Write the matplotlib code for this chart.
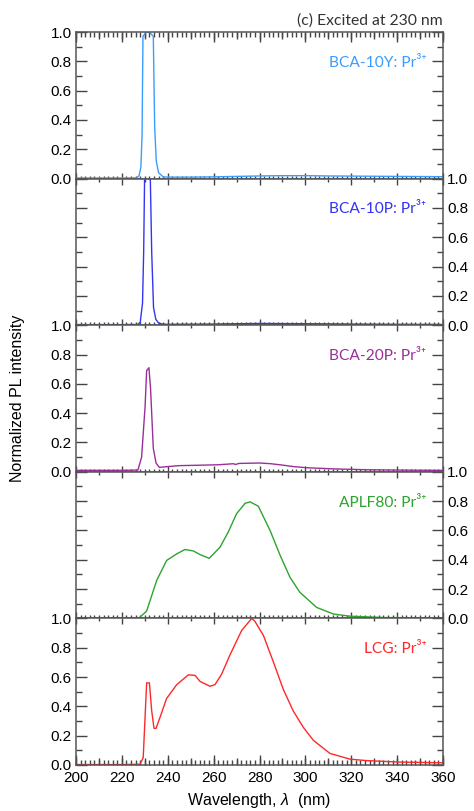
import numpy as np
import matplotlib
matplotlib.use("Agg")
import matplotlib.pyplot as plt
from matplotlib.ticker import MultipleLocator, NullFormatter, FormatStrFormatter

plt.rcParams["font.family"] = ["Liberation Sans", "DejaVu Sans"]
plt.rcParams["mathtext.fontset"] = "custom"
plt.rcParams["mathtext.rm"] = "Lato"
plt.rcParams["mathtext.it"] = "Liberation Sans:italic"

# ---- data ----
w_10y = [200, 210, 220, 226.5, 227.5, 228.3, 228.8, 229.2, 230.5, 232.0, 233.7, 234.3,
         235.0, 236.0, 238.0, 240, 250, 260, 270, 280, 290, 300, 310, 320, 330, 340, 350, 360]
i_10y = [0.004, 0.004, 0.004, 0.005, 0.02, 0.08, 0.3, 0.97, 1.0, 1.0, 0.97, 0.35,
         0.12, 0.04, 0.012, 0.01, 0.01, 0.012, 0.015, 0.018, 0.02, 0.02, 0.018, 0.017,
         0.016, 0.015, 0.014, 0.013]

w_10p = [200, 210, 220, 226.9, 228.0, 229.0, 229.5, 229.9, 231.0, 232.4, 233.0, 233.8,
         234.8, 236.0, 237.5, 240, 260, 270, 280, 290, 300, 320, 340, 360]
i_10p = [0.004, 0.004, 0.004, 0.005, 0.02, 0.15, 0.5, 1.0, 1.0, 1.0, 0.5, 0.12,
         0.04, 0.015, 0.008, 0.006, 0.008, 0.01, 0.012, 0.011, 0.01, 0.008, 0.006, 0.005]

w_20p = [200, 210, 220, 227.0, 228.6, 230.1, 230.8, 231.8, 232.5, 233.7, 234.9, 236.3,
         239.5, 245, 254, 262, 268.6, 269.6, 271, 280.2, 285, 290.4, 295, 300.5, 312,
         326.7, 340, 355.7, 360]
i_20p = [0.01, 0.01, 0.01, 0.012, 0.1, 0.44, 0.69, 0.71, 0.57, 0.16, 0.06, 0.03,
         0.035, 0.042, 0.045, 0.048, 0.055, 0.05, 0.057, 0.06, 0.055, 0.045, 0.035, 0.028,
         0.02, 0.014, 0.012, 0.01, 0.01]

w_aplf = [200, 210, 220, 227.6, 230.8, 235.2, 239.5, 243.9, 247.5, 251.2, 254.1, 258.1,
          262.8, 266.4, 270.0, 273.7, 275.9, 279.5, 284.6, 289.0, 293.3, 297.6, 304.9,
          312.2, 319.4, 334, 360]
i_aplf = [0.003, 0.003, 0.003, 0.004, 0.05, 0.26, 0.395, 0.44, 0.47, 0.46, 0.435, 0.41,
          0.486, 0.59, 0.714, 0.785, 0.795, 0.765, 0.60, 0.43, 0.28, 0.178, 0.075,
          0.03, 0.015, 0.006, 0.003]

w_lcg = [200, 210, 220, 227.9, 229.3, 230.8, 232.0, 233.0, 234.0, 234.9, 236.6, 239.5,
         243.9, 249.0, 251.9, 254.1, 258.4, 260.6, 263.5, 267.1, 272.2, 276.6, 278.0,
         281.7, 286.0, 290.4, 294.7, 299.1, 303.5, 310.7, 319.4, 326.7, 341.2, 360]
i_lcg = [0.003, 0.003, 0.003, 0.005, 0.05, 0.56, 0.56, 0.37, 0.25, 0.25, 0.324, 0.454,
         0.548, 0.615, 0.611, 0.57, 0.537, 0.548, 0.62, 0.75, 0.917, 1.0, 0.98,
         0.884, 0.705, 0.515, 0.369, 0.257, 0.168, 0.079, 0.04, 0.03, 0.02, 0.015]

series = [
    (w_10y, i_10y, "#3b9cff", "BCA-10Y: Pr³⁺"),
    (w_10p, i_10p, "#3434f2", "BCA-10P: Pr³⁺"),
    (w_20p, i_20p, "#9a2f9a", "BCA-20P: Pr³⁺"),
    (w_aplf, i_aplf, "#2ea32e", "APLF80: Pr³⁺"),
    (w_lcg, i_lcg, "#ff2828", "LCG: Pr³⁺"),
]

spine_c = "#555555"
tick_c = "#444444"

fig = plt.figure(figsize=(4.74, 8.11), dpi=100)
axes = fig.subplots(5, 1, sharex=True)
fig.subplots_adjust(left=76 / 474, right=443 / 474, bottom=1 - 765 / 811,
                    top=1 - 32 / 811, hspace=0)

for i, (ax, (w, y, c, lab)) in enumerate(zip(axes, series)):
    ax.plot(w, y, color=c, lw=1.0)
    ax.set_xlim(200, 360)
    ax.set_ylim(0, 1.0)
    for s in ax.spines.values():
        s.set_color(spine_c)
        s.set_linewidth(1.1)

    ax.text(0.955, 0.79, lab, transform=ax.transAxes, ha="right", va="center",
            color=c, fontsize=11.2, family=["Lato", "DejaVu Sans"])

    # y ticks
    ax.yaxis.set_major_locator(MultipleLocator(0.2))
    ax.yaxis.set_minor_locator(MultipleLocator(0.1))
    ax.yaxis.set_major_formatter(FormatStrFormatter("%.1f"))
    left_lab = (i % 2 == 0)
    ax.tick_params(axis="y", which="both", direction="in", left=True, right=True,
                   labelleft=left_lab, labelright=not left_lab, colors=tick_c,
                   labelcolor="black", labelsize=11, width=1.0, pad=3)
    ax.tick_params(axis="y", which="major", length=8)
    ax.tick_params(axis="y", which="minor", length=4.5)

    # x ticks (inner boundaries: short)
    ax.xaxis.set_major_locator(MultipleLocator(20))
    ax.xaxis.set_minor_locator(MultipleLocator(10))
    ax.tick_params(axis="x", which="both", direction="in", top=False, bottom=True,
                   colors=tick_c, labelcolor="black", labelsize=11, width=1.0)
    ax.tick_params(axis="x", which="major", length=4)
    ax.tick_params(axis="x", which="minor", length=2.5)

    if i > 0:
        sec = ax.secondary_xaxis("top")
        sec.xaxis.set_major_locator(MultipleLocator(20))
        sec.xaxis.set_minor_locator(MultipleLocator(10))
        sec.xaxis.set_major_formatter(NullFormatter())
        sec.tick_params(axis="x", which="both", direction="in", colors=tick_c, width=1.0)
        sec.tick_params(axis="x", which="major", length=4)
        sec.tick_params(axis="x", which="minor", length=2.5)
        sec.spines["top"].set_visible(False)

# outer edges: dense ticks
top_ax = axes[0]
for loc_major, loc_minor, lmaj, lmin in [(20, 2, 7, 3.6), (10, None, 5, 0)]:
    sec = top_ax.secondary_xaxis("top")
    sec.xaxis.set_major_locator(MultipleLocator(loc_major))
    if loc_minor:
        sec.xaxis.set_minor_locator(MultipleLocator(loc_minor))
    sec.xaxis.set_major_formatter(NullFormatter())
    sec.tick_params(axis="x", which="both", direction="in", colors=tick_c, width=1.0)
    sec.tick_params(axis="x", which="major", length=lmaj)
    sec.tick_params(axis="x", which="minor", length=lmin)
    sec.spines["top"].set_visible(False)

bot = axes[-1]
bot.xaxis.set_minor_locator(MultipleLocator(2))
bot.tick_params(axis="x", which="major", length=7, pad=4)
bot.tick_params(axis="x", which="minor", length=3.6)
sec = bot.secondary_xaxis("bottom")
sec.xaxis.set_major_locator(MultipleLocator(10))
sec.xaxis.set_major_formatter(NullFormatter())
sec.tick_params(axis="x", which="major", direction="in", length=5, colors=tick_c, width=1.0)
sec.spines["bottom"].set_visible(False)

bot.set_xlabel(r"Wavelength, $\lambda$  (nm)", fontsize=11.5, labelpad=5)
fig.text(18 / 474, 1 - 398.5 / 811, "Normalized PL intensity", rotation=90,
         ha="center", va="center", fontsize=11.5)
axes[0].set_title("(c) Excited at 230 nm", loc="right", fontsize=11.3,
                  family="Lato", color="#333333", pad=5)

fig.savefig("out.png", dpi=100)
